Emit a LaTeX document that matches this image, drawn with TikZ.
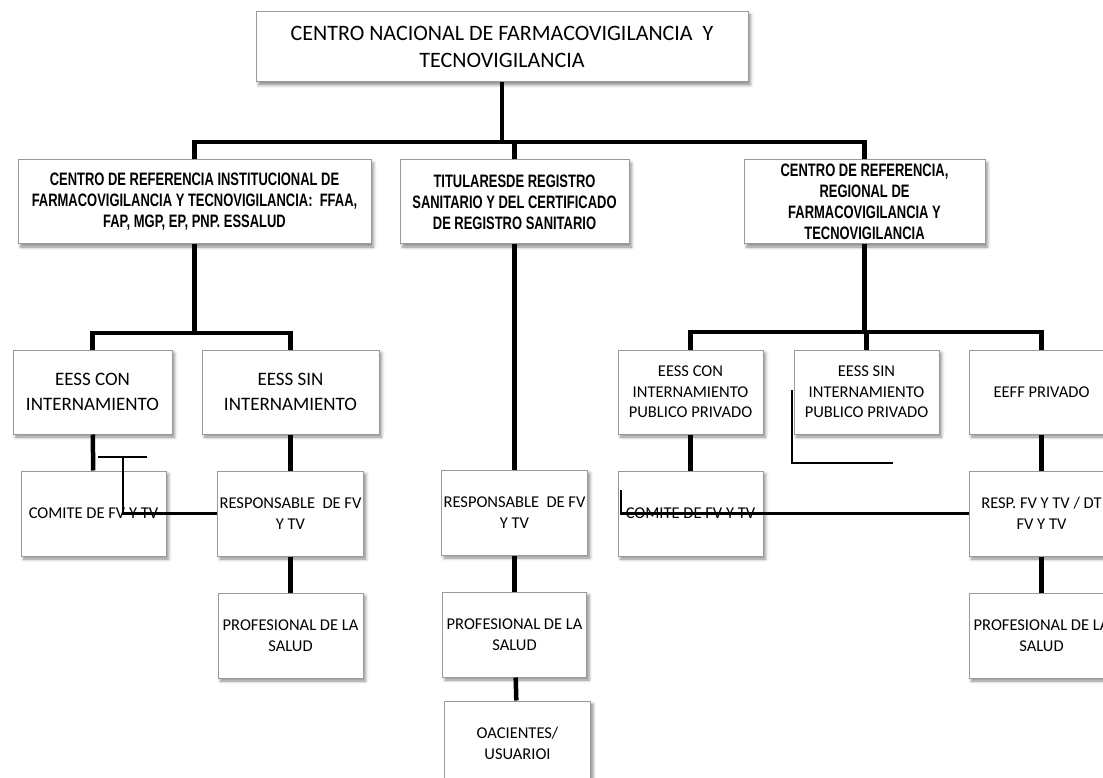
\documentclass[tikz,border=0pt]{standalone}
\usepackage{fontspec}
\setmainfont{Carlito}
\newfontfamily\narrowfont[FakeStretch=0.72]{Liberation Sans}
\usepackage{tikz}
\usetikzlibrary{positioning}
\usetikzlibrary{shadows, shadows.blur}

\begin{document}
\begin{tikzpicture}[x=1pt, y=-1pt]
	\tikzstyle{card} = [draw=gray!80, line width=1pt, fill=white, align=center, inner sep=2pt,
		blur shadow={shadow xshift=2.5pt, shadow yshift=-3pt, shadow blur radius=3pt, shadow opacity=45}]
	\tikzstyle{topcard} = [card, minimum width=492pt, minimum height=70pt, font=\fontsize{22}{27}\selectfont]
	\tikzstyle{headcard} = [card, minimum height=84pt, font=\narrowfont\bfseries\fontsize{18}{21}\selectfont]
	\tikzstyle{unitcard} = [card, minimum width=145pt, minimum height=84pt, font=\fontsize{16.5}{20.5}\selectfont]
	\tikzstyle{bigcard} = [card, minimum height=84pt, font=\fontsize{19}{25}\selectfont]
	\tikzstyle{link} = [line width=4.5pt]
	\tikzstyle{stray} = [line width=2.5pt]

	\useasboundingbox (0,0) rectangle (1103,778);
	\clip (0,0) rectangle (1103,778);

	\node (1) [topcard] at (502,47) {CENTRO NACIONAL DE FARMACOVIGILANCIA\ \ Y\\TECNOVIGILANCIA};

	\node (2) [headcard, minimum width=353pt, below=77pt of 1, xshift=-307.5pt]
		{CENTRO DE REFERENCIA INSTITUCIONAL DE\\FARMACOVIGILANCIA Y TECNOVIGILANCIA:\ \ FFAA,\\FAP, MGP, EP, PNP. ESSALUD};
	\node (3) [headcard, minimum width=229pt, below=77pt of 1, xshift=12.5pt]
		{TITULARESDE REGISTRO\\SANITARIO Y DEL CERTIFICADO\\DE REGISTRO SANITARIO};
	\node (4) [headcard, minimum width=241pt, below=77pt of 1, xshift=362.5pt]
		{CENTRO DE REFERENCIA,\\REGIONAL DE\\FARMACOVIGILANCIA Y\\TECNOVIGILANCIA};

	\node (5) [bigcard, minimum width=159pt, below=105pt of 2, xshift=-102pt] {EESS CON\\INTERNAMIENTO};
	\node (6) [bigcard, minimum width=177pt, right=29pt of 5] {EESS SIN\\INTERNAMIENTO};

	\node (7) [unitcard, below=105pt of 4, xshift=-174pt] {EESS CON\\INTERNAMIENTO\\PUBLICO PRIVADO};
	\node (8) [unitcard, right=30pt of 7] {EESS SIN\\INTERNAMIENTO\\PUBLICO PRIVADO};
	\node (9) [unitcard, right=29pt of 8] {EEFF PRIVADO};

	\node (10) [unitcard, minimum height=85pt, below=36pt of 5, xshift=1pt] {COMITE DE FV Y TV};
	\node (11) [unitcard, minimum height=85pt, below=36pt of 6] {RESPONSABLE\ \ DE FV\\Y TV};
	\node (12) [unitcard, minimum height=85pt, minimum width=144pt, below=225pt of 3] {RESPONSABLE\ \ DE FV\\Y TV};
	\node (13) [unitcard, minimum height=85pt, below=36pt of 7] {COMITE DE FV Y TV};
	\node (14) [unitcard, minimum height=85pt, below=36pt of 9] {RESP. FV Y TV / DT\\FV Y TV};

	\node (15) [unitcard, minimum height=85pt, below=36pt of 11] {PROFESIONAL DE LA\\SALUD};
	\node (16) [unitcard, minimum height=85pt, minimum width=144pt, below=36pt of 12] {PROFESIONAL DE LA\\SALUD};
	\node (17) [unitcard, minimum height=85pt, below=36pt of 14] {PROFESIONAL DE LA\\SALUD};
	\node (18) [unitcard, minimum height=85pt, minimum width=146pt, below=23pt of 16, xshift=3pt] {OACIENTES/\\USUARIOI};

	% buses
	\coordinate (b1) at (502,142);
	\coordinate (b2) at (194.5,333);
	\coordinate (b3) at (864.5,332);

	\draw[link] (1) -- (b1);
	\draw[link] (2) |- (b1) -| (4);
	\draw[link] (3) -- (3 |- b1);

	\draw[link] (2) -- (b2);
	\draw[link] (5) |- (b2) -| (6);
	\draw[link] (5) -- (10);
	\draw[link] (6) -- (11);
	\draw[link] (11) -- (15);

	\draw[link] (3) -- (12);
	\draw[link] (12) -- (16);
	\draw[link] (16) -- (18);

	\draw[link] (4) -- (b3);
	\draw[link] (7) |- (b3) -| (9);
	\draw[link] (8) -- (8 |- b3);
	\draw[link] (7) -- (13);
	\draw[link] (9) -- (14);
	\draw[link] (14) -- (17);

	% loose strokes
	\coordinate (c1) at (98,457);
	\coordinate (c2) at (147,457);
	\coordinate (c3) at (123,457);
	\draw[stray] (c1) -- (c2);
	\draw[stray] (c3) |- (11);

	\coordinate (c4) at (792,390);
	\coordinate (c5) at (893,463);
	\draw[stray] (c4) |- (c5);

	\coordinate (c6) at (621,490);
	\draw[stray] (c6) |- (14);

	\tikzstyle{card} = []
\end{tikzpicture}
\end{document}
